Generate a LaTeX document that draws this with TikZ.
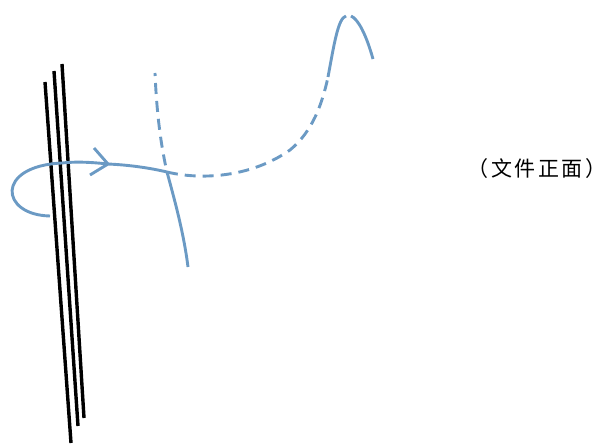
\documentclass[tikz,border=0pt]{standalone}
\usepackage{fontspec}
\newfontfamily\cjk[LetterSpace=12]{Noto Sans CJK SC}
\definecolor{wireblue}{HTML}{6B9AC4}
\begin{document}
\begin{tikzpicture}[x=1pt,y=-1pt,
  wire/.style={draw=wireblue,line width=2.9pt},
  wiredash/.style={wire,dash pattern=on 11pt off 7pt},
  rod/.style={draw=black,line width=3.4pt}]
\useasboundingbox (0,0) rectangle (606,444);
% black rods
\coordinate (r1a) at (45,82);  \coordinate (r1b) at (71,443);
\coordinate (r2a) at (54,71);  \coordinate (r2b) at (78,426);
\coordinate (r3a) at (62,64);  \coordinate (r3b) at (84,418);
\draw[rod] (r1a) -- (r1b);
\draw[rod] (r2a) -- (r2b);
\draw[rod] (r3a) -- (r3b);
% blue loop with arrow
\coordinate (ls) at (50,216);
\coordinate (lt) at (62,163);
\coordinate (tip) at (108,164);
\coordinate (x) at (167,172);
\coordinate (ah1) at (94,148);
\coordinate (ah2) at (90,175);
\draw[wire] (ls) .. controls (0,215) and (-5,166) .. (lt)
  .. controls (80,161) and (98,163) .. (tip)
  .. controls (130,165) and (150,168) .. (x);
\draw[wire,line join=miter] (ah1) -- (tip) -- (ah2);
% dashed curve to the right
\coordinate (d1) at (290,150);
\coordinate (d2) at (328,77);
\draw[wiredash] (x) .. controls (200,180) and (250,178) .. (d1)
  .. controls (312,132) and (322,105) .. (d2);
\coordinate (pk1) at (346,16);
\coordinate (pk2) at (351,16);
\coordinate (e) at (373,59);
\draw[wire] (d2) .. controls (334,45) and (338,18) .. (pk1);
\draw[wire] (pk2) .. controls (358,19) and (366,34) .. (e);
% vertical line
\coordinate (vt) at (155,73);
\coordinate (vb) at (188,267);
\draw[wiredash,dash phase=8pt] (vt) .. controls (157,120) and (162,150) .. (x);
\draw[wire] (x) .. controls (176,205) and (184,235) .. (vb);
% label
\node[font=\cjk\fontsize{21}{25}\selectfont,inner sep=0pt] (lbl) at (537,169) {（文件正面）};
\end{tikzpicture}
\end{document}
